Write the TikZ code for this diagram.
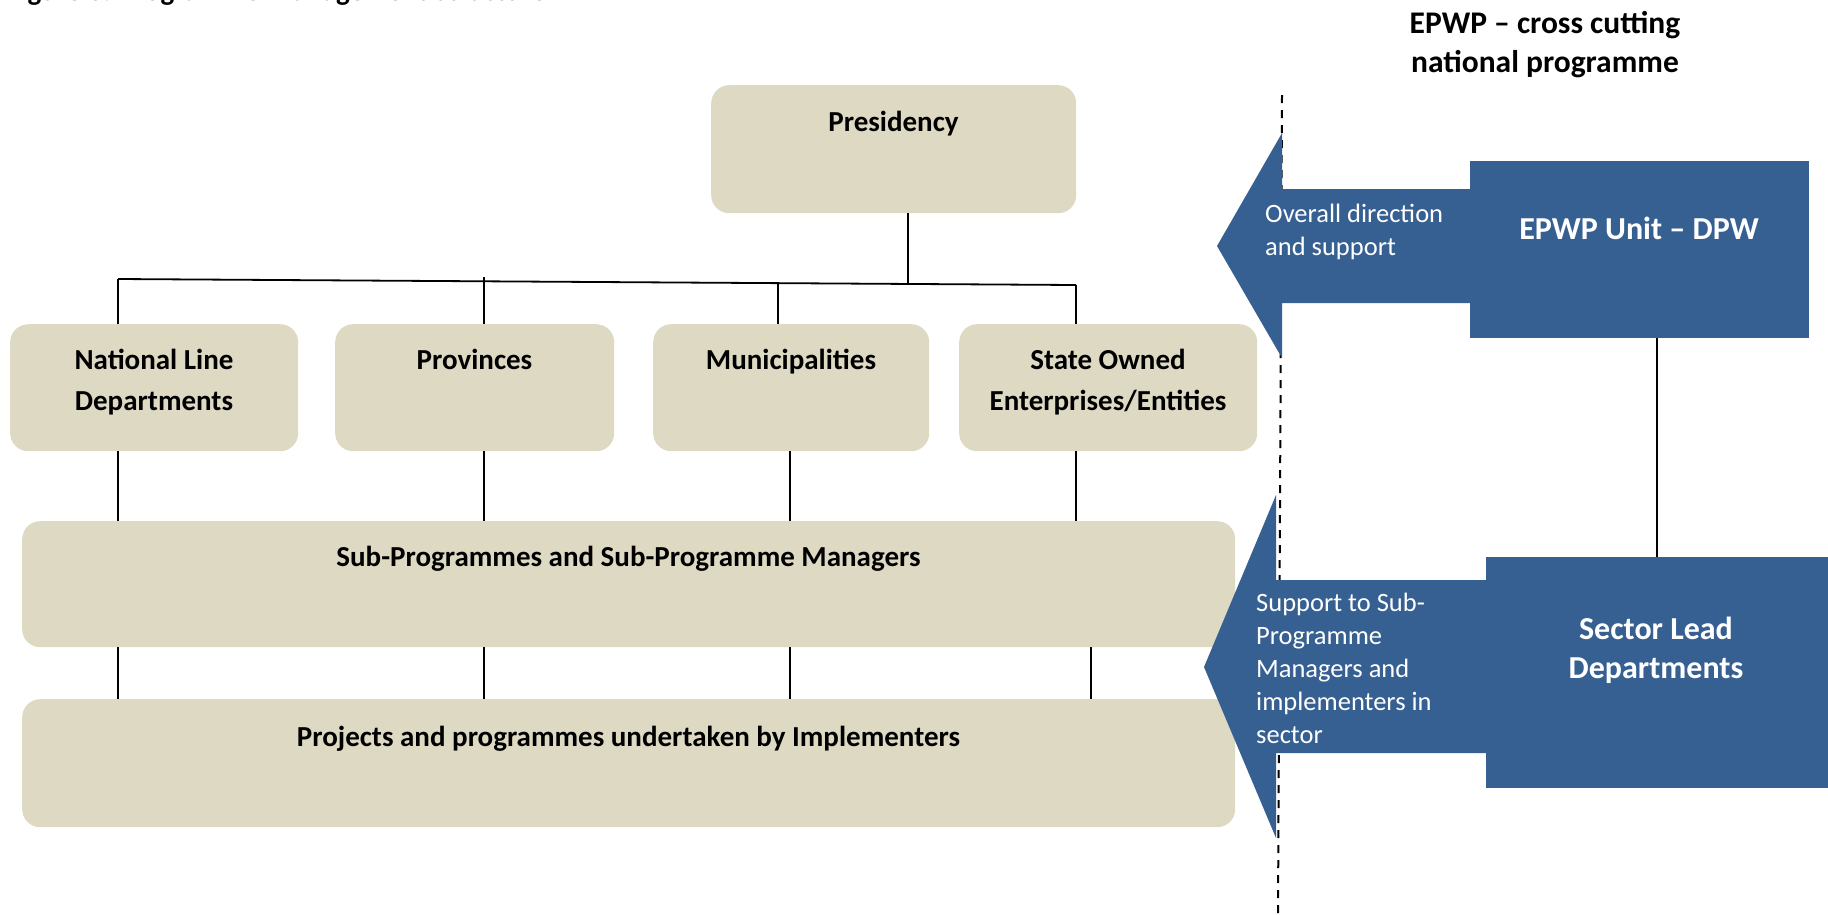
\documentclass[tikz,border=0pt]{standalone}
\usepackage{fontspec}
\setmainfont{Carlito}
\definecolor{boxbeige}{HTML}{DDD9C3}
\definecolor{unitblue}{HTML}{376092}
\begin{document}
\begin{tikzpicture}[x=1pt,y=-1pt,
  box/.style={fill=boxbeige, draw=none, rounded corners=18pt, inner sep=0pt, anchor=north west},
  bluebox/.style={fill=unitblue, draw=none, inner sep=0pt, anchor=north west},
  lbl/.style={font=\fontsize{29}{41}\selectfont\bfseries, anchor=base, align=center, inner sep=0pt},
  head/.style={font=\fontsize{31.5}{39}\selectfont\bfseries, anchor=base, align=center, inner sep=0pt},
  unitlbl/.style={font=\fontsize{32}{39}\selectfont\bfseries, text=white, anchor=base, align=center, inner sep=0pt},
  arrowlbl/.style={font=\fontsize{26.5}{32.8}\selectfont, text=white, anchor=base west, align=left, inner sep=0pt},
  link/.style={draw=black, line width=1.5pt},
  divider/.style={draw=black, line width=2pt, dash pattern=on 8pt off 7pt}
]
\useasboundingbox (0,0) rectangle (1828,914);

% caption (runs off the top edge)
\node[lbl, anchor=base west] (caption) at (7,0) {Figure 3: Programme Management Structure};

% heading of the right-hand column (multi-line labels are placed by their last baseline)
\node[head] (colhead) at (1545,72) {EPWP -- cross cutting\\national programme};

% divider between the structure and the EPWP support column
\coordinate (dtop) at (1282,95);
\coordinate (dbot) at (1278,914);
\draw[divider] (dtop) -- (dbot);

% management structure boxes
\node[box, minimum width=365pt, minimum height=128pt] (pres) at (711,85) {};
\node[box, minimum width=288pt, minimum height=127pt] (nat)  at (10,324) {};
\node[box, minimum width=279pt, minimum height=127pt] (prov) at (335,324) {};
\node[box, minimum width=276pt, minimum height=127pt] (muni) at (653,324) {};
\node[box, minimum width=298pt, minimum height=127pt] (soe)  at (959,324) {};
\node[box, minimum width=1213pt, minimum height=126pt] (sub)  at (22,521) {};
\node[box, minimum width=1213pt, minimum height=128pt] (proj) at (22,699) {};

\node[lbl] (presT) at (893.5,131) {Presidency};
\node[lbl] (natT)  at (154,410) {National Line\\Departments};
\node[lbl] (provT) at (474.5,369) {Provinces};
\node[lbl] (muniT) at (791,369) {Municipalities};
\node[lbl] (soeT)  at (1108,410) {State Owned\\Enterprises/Entities};
\node[lbl] (subT)  at (628.5,566) {Sub-Programmes and Sub-Programme Managers};
\node[lbl] (projT) at (628.5,746) {Projects and programmes undertaken by Implementers};

% bus below the Presidency
\coordinate (busL) at (118,279);
\coordinate (busR) at (1076,285);
\coordinate (busP) at (908,284);
\coordinate (busV) at (484,277);
\coordinate (busM) at (778,283);
\draw[link, line width=1.8pt] (busL) -- (busR);
\draw[link] (pres.south -| busP) -- (busP);
\draw[link] (busL) -- (busL |- nat.north);
\draw[link] (busV) -- (busV |- prov.north);
\draw[link] (busM) -- (busM |- muni.north);
\draw[link] (busR) -- (busR |- soe.north);

% second row down to the sub-programmes
\coordinate (x1) at (118,0);
\coordinate (x2) at (484,0);
\coordinate (x3) at (790,0);
\coordinate (x4) at (1076,0);
\coordinate (x5) at (1091,0);
\draw[link] (x1 |- nat.south)  -- (x1 |- sub.north);
\draw[link] (x2 |- prov.south) -- (x2 |- sub.north);
\draw[link] (x3 |- muni.south) -- (x3 |- sub.north);
\draw[link] (x4 |- soe.south)  -- (x4 |- sub.north);

% sub-programmes down to the projects
\draw[link] (x1 |- sub.south) -- (x1 |- proj.north);
\draw[link] (x2 |- sub.south) -- (x2 |- proj.north);
\draw[link] (x3 |- sub.south) -- (x3 |- proj.north);
\draw[link] (x5 |- sub.south) -- (x5 |- proj.north);

% EPWP unit and its arrow
\fill[unitblue] (1217,246) -- (1282,133) -- (1282,189) -- (1471,189)
  -- (1471,303) -- (1282,303) -- (1282,358) -- cycle;
\node[bluebox, minimum width=339pt, minimum height=177pt] (epwp) at (1470,161) {};
\node[unitlbl] (epwpT) at (1639,239) {EPWP Unit -- DPW};
\node[arrowlbl] (dirT) at (1265,255) {Overall direction\\and support};

% sector lead departments and their arrow
\fill[unitblue] (1204,667) -- (1276,495) -- (1276,580) -- (1487,580)
  -- (1487,753) -- (1276,753) -- (1276,838) -- cycle;
\node[bluebox, minimum width=342pt, minimum height=231pt] (sector) at (1486,557) {};
\node[unitlbl] (sectorT) at (1656,678) {Sector Lead\\Departments};
\node[arrowlbl] (supT) at (1256,743) {Support to Sub-\\Programme\\Managers and\\implementers in\\sector};

% EPWP unit down to the sector lead departments
\coordinate (xs) at (1657,0);
\draw[link] (xs |- epwp.south) -- (xs |- sector.north);
\end{tikzpicture}
\end{document}
